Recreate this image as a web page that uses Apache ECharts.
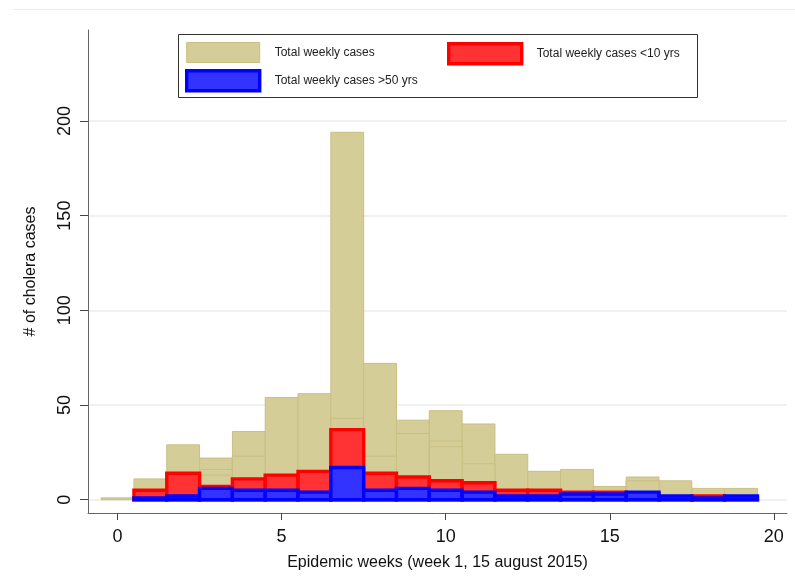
<!DOCTYPE html>
<html>
<head>
<meta charset="utf-8">
<script src="https://cdn.jsdelivr.net/npm/echarts@6/dist/echarts.min.js"></script>
<style>
  html, body { margin: 0; padding: 0; background: #fff; }
  #chart { width: 795px; height: 580px; }
</style>
</head>
<body>
<div id="chart"></div>
<script>
// epidemic week (bar centre)
var weeks = [0, 1, 2, 3, 4, 5, 6, 7, 8, 9, 10, 11, 12, 13, 14, 15, 16, 17, 18, 19];
// total weekly cases
var totalCases = [1, 11, 29, 22, 36, 54, 56, 194, 72, 42, 47, 40, 24, 15, 16, 7, 12, 10, 6, 6];
// faint overlaid khaki bars (inner lines)
var innerA = [null, null, null, 16, 23, null, null, 43, 23, 35, 31, 19, null, null, null, null, 10, null, null, null];
var innerB = [null, null, null, 13, null, null, null, null, null, null, 28, null, null, null, null, null, null, null, null, null];
// cases <10 yrs
var under10 = [null, 5, 14, 7, 11, 13, 15, 37, 14, 12, 10, 9, 5, 5, 4, 4, 3, 1, 2, 1];
// cases >50 yrs
var over50 = [null, 1, 2, 6, 5, 5, 4, 17, 5, 6, 5, 4, 2, 2, 3, 3, 4, 2, 1, 2];

var xTicks = [0, 5, 10, 15, 20];
var yTicks = [0, 50, 100, 150, 200];

var nameTotal = 'Total weekly cases';
var nameU10 = 'Total weekly cases <10 yrs';
var nameO50 = 'Total weekly cases >50 yrs';

function pairs(vals) {
    var out = [];
    for (var i = 0; i < weeks.length; i++) {
        if (vals[i] != null) out.push([weeks[i], vals[i]]);
    }
    return out;
}

// histogram bar, width 1 week
function barRender(fill, stroke, lw) {
    return function (params, api) {
        var x = api.value(0), y = api.value(1);
        var p0 = api.coord([x - 0.5, y]);
        var p1 = api.coord([x + 0.5, 0]);
        return {
            type: 'rect',
            shape: { x: p0[0], y: p0[1], width: p1[0] - p0[0], height: p1[1] - p0[1] },
            style: { fill: fill, stroke: stroke, lineWidth: lw }
        };
    };
}

var khaki = '#d5cd98', khakiLine = '#c9bf82';
var legendItems = {};
legendItems[nameTotal] = { color: khaki, borderColor: khakiLine, borderWidth: 1 };
legendItems[nameU10] = { color: '#ff3333', borderColor: '#ff0000', borderWidth: 3.4 };
legendItems[nameO50] = { color: '#3333ff', borderColor: '#0000ff', borderWidth: 3.4 };

function legendBlock(left, names) {
    return {
        left: left,
        top: 42,
        orient: 'vertical',
        padding: 0,
        itemGap: 6,
        itemWidth: 73,
        itemHeight: 20,
        selectedMode: false,
        textStyle: { color: '#222', fontSize: 12, padding: [0, 0, 0, 10] },
        data: names.map(function (n) {
            return { name: n, icon: 'rect', itemStyle: legendItems[n] };
        })
    };
}

var myChart = echarts.init(document.getElementById('chart'), null, { renderer: 'canvas' });
var option = {
    animation: false,
    backgroundColor: '#ffffff',
    textStyle: { fontFamily: 'Liberation Sans, Arial, sans-serif' },
    grid: { left: 88, right: 8, top: 30, bottom: 67 },
    graphic: [{
        type: 'line',
        shape: { x1: 13, y1: 9.5, x2: 795, y2: 9.5 },
        style: { stroke: '#e8edf0', lineWidth: 1 }
    }, {
        // legend frame
        type: 'rect', z: 1,
        shape: { x: 178.5, y: 34.5, width: 519, height: 63 },
        style: { fill: '#fff', stroke: '#333', lineWidth: 1 }
    }],
    legend: [
        legendBlock(185, [nameTotal, nameO50]),
        legendBlock(447, [nameU10])
    ],
    xAxis: {
        type: 'value',
        min: -0.9,
        max: 20.4,
        name: 'Epidemic weeks (week 1, 15 august 2015)',
        nameLocation: 'middle',
        nameGap: 42,
        nameTextStyle: { fontSize: 16, color: '#111' },
        axisLine: { show: true, onZero: false, lineStyle: { color: '#666', width: 1 } },
        axisTick: { show: true, length: 7, customValues: xTicks, lineStyle: { color: '#444' } },
        axisLabel: { customValues: xTicks, fontSize: 18, color: '#111', margin: 15 },
        splitLine: { show: false }
    },
    yAxis: {
        type: 'value',
        min: -7,
        max: 248,
        name: '# of cholera cases',
        nameLocation: 'middle',
        nameRotate: 90,
        nameGap: 49,
        nameTextStyle: { fontSize: 16, color: '#111' },
        axisLine: { show: true, onZero: false, lineStyle: { color: '#666', width: 1 } },
        axisTick: { show: true, length: 8, customValues: yTicks, lineStyle: { color: '#444' } },
        axisLabel: { customValues: yTicks, rotate: 90, fontSize: 18, color: '#111', margin: 14 },
        splitLine: { show: true, lineStyle: { color: '#e8eef2', width: 1.5 } }
    },
    series: [
        {
            name: nameTotal, type: 'custom', z: 2,
            itemStyle: { color: khaki },
            renderItem: barRender(khaki, khakiLine, 1),
            data: pairs(totalCases)
        },
        {
            name: 'innerA', type: 'custom', z: 3,
            renderItem: barRender(khaki, khakiLine, 1),
            data: pairs(innerA)
        },
        {
            name: 'innerB', type: 'custom', z: 3,
            renderItem: barRender(khaki, khakiLine, 1),
            data: pairs(innerB)
        },
        {
            name: nameU10, type: 'custom', z: 4,
            itemStyle: { color: '#ff3333' },
            renderItem: barRender('#ff3333', '#ff0000', 3.4),
            data: pairs(under10)
        },
        {
            name: nameO50, type: 'custom', z: 5,
            itemStyle: { color: '#3333ff' },
            renderItem: barRender('#3333ff', '#0000ff', 3.4),
            data: pairs(over50)
        }
    ]
};
myChart.setOption(option);
</script>
</body>
</html>
